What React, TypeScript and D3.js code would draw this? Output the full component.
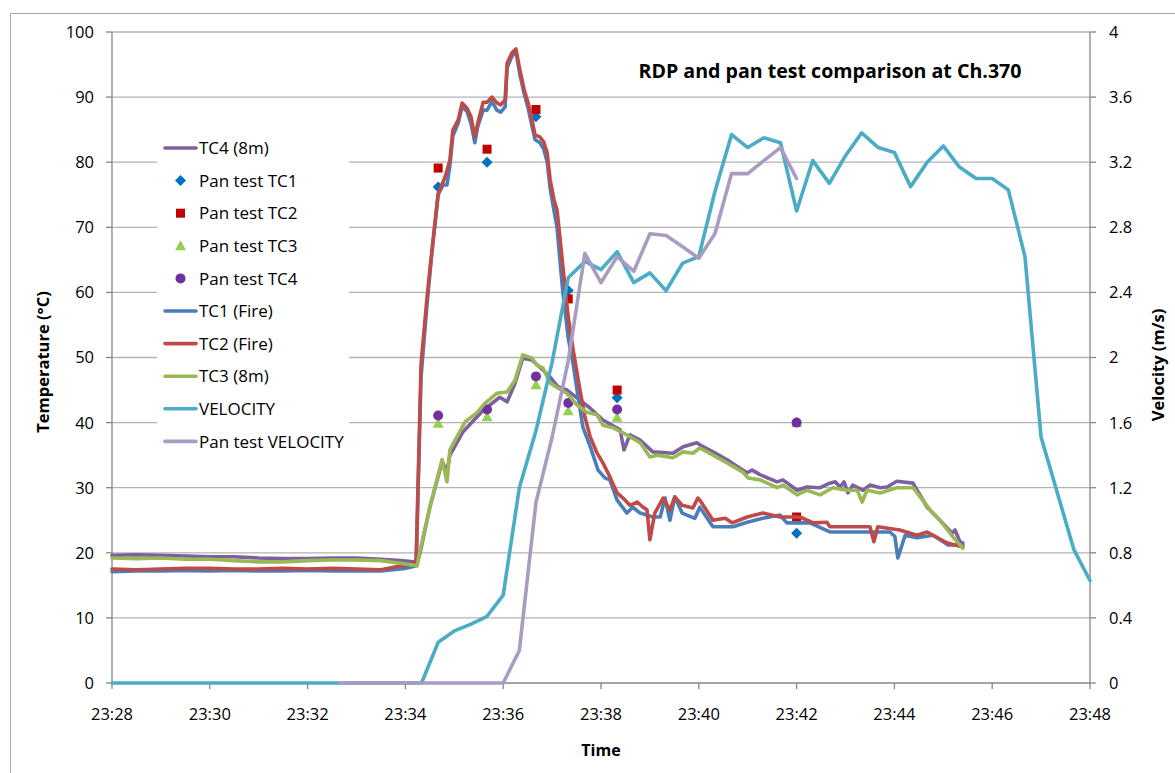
import React from "react";
import * as d3 from "d3";

// time = minutes after 23:28
const timeTickLabels = ["23:28","23:30","23:32","23:34","23:36","23:38","23:40","23:42","23:44","23:46","23:48"];
const timeTickValues = [0,2,4,6,8,10,12,14,16,18,20];
const tempTicks = [0,10,20,30,40,50,60,70,80,90,100];
const velTicks = [0,0.4,0.8,1.2,1.6,2,2.4,2.8,3.2,3.6,4];
const velTickLabels = ["0","0.4","0.8","1.2","1.6","2","2.4","2.8","3.2","3.6","4"];

const tc4: [number, number][] = [
  [0,19.6],[0.5,19.7],[1,19.6],[1.5,19.5],[2,19.4],[2.5,19.4],[3,19.2],[3.5,19.1],[4,19.1],[4.5,19.2],[5,19.2],[5.5,19.0],[5.9,18.8],[6.16,18.6],[6.24,18.4],
  [6.3,20],[6.5,27],[6.75,34],[6.85,32.5],[6.91,35],[7.18,38.6],[7.59,41.9],[7.93,43.9],[8.08,43.2],[8.24,46],[8.4,49.9],[8.59,49.6],[8.75,48.5],[8.96,47],[9.12,45.5],[9.3,45],[9.51,43.8],[9.78,42.2],[10.04,40.4],[10.39,38.9],[10.47,35.8],[10.59,38.1],[10.8,37.3],[11.06,35.5],[11.47,35.3],[11.68,36.3],[11.96,36.9],
  [12.02,36.6],[12.29,35.5],[12.58,34.3],[12.84,33],[12.99,32.3],[13.09,32.7],[13.25,32],[13.6,30.9],[13.72,31.2],[14.01,29.6],[14.21,30.1],[14.48,30],[14.68,30.7],[14.79,30.9],[14.89,30.1],[14.97,30.9],[15.05,29.2],[15.15,30.4],[15.36,29.6],[15.5,30.4],[15.71,30],[15.85,30.1],[16.05,31],[16.38,30.7],[16.67,27],[16.93,25],[17.18,23],[17.24,23.5],[17.34,21.7],[17.4,21.5]
];

const tc1: [number, number][] = [
  [0,17.1],[0.5,17.2],[1,17.2],[1.5,17.3],[2,17.2],[2.5,17.3],[3,17.2],[3.5,17.2],[4,17.3],[4.5,17.2],[5,17.2],[5.5,17.2],[5.99,17.6],[6.16,17.9],[6.22,18.0],
  [6.32,47],[6.44,58],[6.54,66],[6.67,75],[6.77,76.5],[6.85,76.5],[6.91,79.5],[6.97,84],[7.08,86],[7.16,88.5],[7.26,87.8],[7.34,86],[7.42,83],[7.48,85.5],[7.59,88],[7.67,88],[7.77,89.3],[7.87,88],[7.95,87.7],[8.04,88.5],[8.08,94.5],[8.18,96.3],[8.26,97],[8.34,93.5],[8.43,90.5],[8.51,88.3],[8.59,85.5],[8.65,83.5],[8.75,83],[8.83,82],[8.9,80],[8.96,76],[9.04,72.5],[9.1,70],[9.16,65],[9.22,60],[9.33,53],[9.43,49],[9.53,44],[9.63,39.3],[9.78,36.3],[9.94,32.7],[10.08,31.5],[10.18,31.2],[10.33,28.1],[10.53,26.1],[10.65,27],[10.8,26.1],[11.06,25.5],[11.21,25.5],[11.31,28.4],[11.41,25],[11.51,28.6],[11.66,26.1],[11.92,25.3],[12.02,27],
  [12.29,24],[12.7,24],[12.99,24.7],[13.31,25.3],[13.66,25.8],[13.8,24.6],[14.27,24.6],[14.68,23.2],[15.09,23.2],[15.91,23.2],[16.01,22.5],[16.07,19.2],[16.22,22.7],[16.46,22.3],[16.79,22.7],[17.1,21.2],[17.4,21.2]
];

const tc2: [number, number][] = [
  [0,17.5],[0.5,17.4],[1,17.5],[1.5,17.6],[2,17.6],[2.5,17.5],[3,17.5],[3.5,17.6],[4,17.5],[4.5,17.6],[5,17.5],[5.5,17.4],[5.83,17.9],[6.16,18.2],[6.22,19],
  [6.32,49],[6.44,59],[6.5,63.4],[6.67,75.2],[6.81,77.7],[6.91,80.3],[6.97,84.9],[7.08,86.5],[7.16,89.1],[7.26,88.3],[7.34,87],[7.42,83.9],[7.48,86],[7.59,89.2],[7.67,89.2],[7.77,90],[7.87,89.1],[7.95,88.8],[8.04,89.6],[8.08,95.2],[8.18,96.8],[8.26,97.4],[8.34,94.2],[8.43,91.1],[8.51,89.1],[8.59,86.5],[8.65,84.2],[8.75,83.9],[8.83,83.1],[8.9,81.4],[8.96,77.3],[9.04,74.2],[9.1,72.7],[9.16,68.5],[9.22,64],[9.33,56.2],[9.43,51.2],[9.57,45],[9.67,40.9],[9.78,37.8],[9.92,35.3],[10.04,33.8],[10.18,31.7],[10.33,29.2],[10.45,28.4],[10.59,27.3],[10.74,27.8],[10.86,27],[10.94,26.6],[11.0,22],[11.1,26.1],[11.27,28.4],[11.41,26.6],[11.51,28.6],[11.66,27.3],[11.88,26.9],[11.98,28.4],
  [12.02,28.1],[12.29,25],[12.54,25.3],[12.68,24.6],[12.99,25.5],[13.31,26.1],[13.66,25.5],[14.07,25.5],[14.34,24.6],[14.62,24.7],[14.68,24],[15.24,24],[15.5,24],[15.58,21.7],[15.66,24],[16.11,23.5],[16.46,22.7],[16.67,23.2],[17.08,21.5],[17.4,20.9]
];

const tc3: [number, number][] = [
  [0,19.2],[0.5,19.1],[1,19.2],[1.5,19.0],[2,19.0],[2.5,18.8],[3,18.6],[3.5,18.6],[4,18.8],[4.5,18.9],[5,18.9],[5.5,18.8],[5.9,18.4],[6.24,18.0],
  [6.3,20.4],[6.5,27],[6.75,34.3],[6.85,30.9],[6.91,35.8],[7.22,40.1],[7.46,41.5],[7.63,43],[7.87,44.5],[8.08,44.7],[8.24,46.5],[8.4,50.4],[8.59,49.9],[8.69,48.8],[8.81,48.4],[8.96,46.1],[9.12,45.3],[9.3,44.5],[9.51,42.7],[9.71,41.6],[9.92,41.2],[10.04,39.6],[10.25,39.2],[10.53,38.1],[10.8,36.9],[11.0,34.7],[11.15,35],[11.47,34.6],[11.68,35.5],[11.88,35.3],
  [12.02,36.1],[12.29,35],[12.58,33.8],[12.9,32.4],[13.01,31.5],[13.25,31.2],[13.6,30],[13.72,30.4],[14.01,28.9],[14.21,29.6],[14.48,28.9],[14.74,30],[15.03,29.6],[15.24,29.6],[15.34,27.8],[15.44,29.6],[15.71,29.2],[16.05,30],[16.38,30],[16.73,26.6],[16.93,25],[17.2,22.4],[17.4,20.7]
];

const velocity: [number, number][] = [
  [0,0],[6.33,0],[6.67,0.25],[7.0,0.32],[7.33,0.36],[7.67,0.41],[8.0,0.54],[8.33,1.2],[8.67,1.55],[9.0,1.97],[9.33,2.49],[9.67,2.59],[10.0,2.54],[10.33,2.65],[10.67,2.46],[11.0,2.52],[11.33,2.41],[11.67,2.58],[12.0,2.62],[12.33,3.02],[12.67,3.37],[13.0,3.29],[13.33,3.35],[13.67,3.32],[14.0,2.9],[14.33,3.21],[14.67,3.07],[15.0,3.24],[15.33,3.38],[15.67,3.29],[16.0,3.26],[16.33,3.05],[16.67,3.2],[17.0,3.3],[17.33,3.17],[17.67,3.1],[18.0,3.1],[18.33,3.03],[18.67,2.62],[19.0,1.51],[19.33,1.17],[19.67,0.82],[20.0,0.63]
];

const panVelocity: [number, number][] = [
  [4.67,0],[6.0,0],[7.0,0],[8.0,0],[8.33,0.2],[8.67,1.11],[9.0,1.51],[9.33,1.98],[9.67,2.64],[10.0,2.46],[10.33,2.62],[10.67,2.53],[11.0,2.76],[11.33,2.75],[11.67,2.68],[12.0,2.61],[12.33,2.76],[12.67,3.13],[13.0,3.13],[13.33,3.21],[13.67,3.29],[14.0,3.1]
];

const panTimes = [6.67, 7.67, 8.67, 9.33, 10.33, 14.0];
const panTC1 = [76.2, 80, 87, 60.3, 43.8, 23];
const panTC2 = [79.1, 82, 88.1, 59, 45, 25.5];
const panTC3 = [39.9, 40.9, 45.8, 41.8, 40.8, 40];
const panTC4 = [41.1, 42, 47.1, 43, 42, 40];

const C = {
  tc1: "#4A7EBB", tc2: "#BE4B48", tc3: "#98B954", tc4: "#7D60A0",
  vel: "#4BACC6", pvel: "#A99BC1",
  m1: "#0070C0", m2: "#C00000", m3: "#92D050", m4: "#7030A0",
};

const FONT = "'Open Sans', Lato, sans-serif";

export default function App() {
  const L = 112, R = 1090, T = 32, B = 683;
  const x = d3.scaleLinear().domain([0, 20]).range([L, R]);
  const yT = d3.scaleLinear().domain([0, 100]).range([B, T]);
  const yV = d3.scaleLinear().domain([0, 4]).range([B, T]);
  const lineT = d3.line<[number, number]>().x(d => x(d[0])).y(d => yT(d[1]));
  const lineV = d3.line<[number, number]>().x(d => x(d[0])).y(d => yV(d[1]));
  const sw = 3.6;
  const lp = { fill: "none", strokeWidth: sw, strokeLinejoin: "round" as const, strokeLinecap: "round" as const };

  const diamond = (cx: number, cy: number, s = 5.5) => `M${cx},${cy - s}L${cx + s},${cy}L${cx},${cy + s}L${cx - s},${cy}Z`;
  const tri = (cx: number, cy: number, s = 5.5) => `M${cx},${cy - s}L${cx + s},${cy + s * 0.8}L${cx - s},${cy + s * 0.8}Z`;

  const markers = (kind: number, cx: number, cy: number, key: string) => {
    if (kind === 1) return <path key={key} d={diamond(cx, cy)} fill={C.m1} />;
    if (kind === 2) return <rect key={key} x={cx - 4.5} y={cy - 4.5} width={9} height={9} fill={C.m2} />;
    if (kind === 3) return <path key={key} d={tri(cx, cy)} fill={C.m3} />;
    return <circle key={key} cx={cx} cy={cy} r={5} fill={C.m4} />;
  };

  const legendItems: { label: string; kind: "line" | number; color: string }[] = [
    { label: "TC4 (8m)", kind: "line", color: C.tc4 },
    { label: "Pan test TC1", kind: 1, color: C.m1 },
    { label: "Pan test TC2", kind: 2, color: C.m2 },
    { label: "Pan test TC3", kind: 3, color: C.m3 },
    { label: "Pan test TC4", kind: 4, color: C.m4 },
    { label: "TC1 (Fire)", kind: "line", color: C.tc1 },
    { label: "TC2 (Fire)", kind: "line", color: C.tc2 },
    { label: "TC3 (8m)", kind: "line", color: C.tc3 },
    { label: "VELOCITY", kind: "line", color: C.vel },
    { label: "Pan test VELOCITY", kind: "line", color: C.pvel },
  ];

  return (
    <svg width={1175} height={773} style={{ position: "absolute", left: 0, top: 0, background: "#fff" }} fontFamily={FONT}>
      <rect x={0} y={0} width={1175} height={773} fill="#fff" />
      <path d="M10.5,773V13.5H1175" fill="none" stroke="#a6a6a6" strokeWidth={1} />
      {/* gridlines */}
      {tempTicks.filter(t => t > 0).map(t => (
        <line key={"g" + t} x1={L} x2={R} y1={yT(t)} y2={yT(t)} stroke="#b3b3b3" strokeWidth={1.3} />
      ))}
      {/* axes */}
      <line x1={L} x2={L} y1={T} y2={B} stroke="#868686" strokeWidth={1.3} />
      <line x1={R} x2={R} y1={T} y2={B} stroke="#868686" strokeWidth={1.3} />
      <line x1={L} x2={R} y1={B} y2={B} stroke="#868686" strokeWidth={1.3} />
      {tempTicks.map(t => (
        <g key={"lt" + t}>
          <line x1={L - 6} x2={L} y1={yT(t)} y2={yT(t)} stroke="#868686" strokeWidth={1.3} />
          <text x={94} y={yT(t)} dy="0.36em" textAnchor="end" fontSize={16.5} fill="#000">{t}</text>
        </g>
      ))}
      {velTicks.map((v, i) => (
        <g key={"rt" + i}>
          <line x1={R} x2={R + 6} y1={yV(v)} y2={yV(v)} stroke="#868686" strokeWidth={1.3} />
          <text x={1109} y={yV(v)} dy="0.36em" textAnchor="start" fontSize={16.5} fill="#000">{velTickLabels[i]}</text>
        </g>
      ))}
      {timeTickValues.map((t, i) => (
        <g key={"bt" + t}>
          <line x1={x(t)} x2={x(t)} y1={B} y2={B + 6} stroke="#868686" strokeWidth={1.3} />
          <text x={x(t)} y={714} dy="0.36em" textAnchor="middle" fontSize={16.5} fill="#000">{timeTickLabels[i]}</text>
        </g>
      ))}
      <text transform="translate(43,362) rotate(-90)" textAnchor="middle" dy="0.36em" fontSize={16.5} fontWeight="bold">Temperature (°C)</text>
      <text transform="translate(1158,365) rotate(-90)" textAnchor="middle" dy="0.36em" fontSize={16.5} fontWeight="bold">Velocity (m/s)</text>
      <text x={601} y={750} textAnchor="middle" dy="0.36em" fontSize={16} fontWeight="bold">Time</text>
      <text x={830} y={71} textAnchor="middle" dy="0.36em" fontSize={19.6} fontWeight="bold">RDP and pan test comparison at Ch.370</text>

      {/* legend background */}
      <rect x={157} y={133} width={192} height={327} fill="#fff" />

      {/* series in legend order */}
      <path d={lineT(tc4) || ""} stroke={C.tc4} {...lp} />
      {panTimes.map((t, i) => markers(1, x(t), yT(panTC1[i]), "m1" + i))}
      {panTimes.map((t, i) => markers(2, x(t), yT(panTC2[i]), "m2" + i))}
      {panTimes.map((t, i) => markers(3, x(t), yT(panTC3[i]), "m3" + i))}
      {panTimes.map((t, i) => markers(4, x(t), yT(panTC4[i]), "m4" + i))}
      <path d={lineT(tc1) || ""} stroke={C.tc1} {...lp} />
      <path d={lineT(tc2) || ""} stroke={C.tc2} {...lp} />
      <path d={lineT(tc3) || ""} stroke={C.tc3} {...lp} />
      <path d={lineV(velocity) || ""} stroke={C.vel} {...lp} />
      <path d={lineV(panVelocity) || ""} stroke={C.pvel} {...lp} />

      {/* legend */}
      {legendItems.map((it, i) => {
        const cy = 148 + i * 32.6;
        return (
          <g key={"lg" + i}>
            {it.kind === "line" ? (
              <line x1={165} x2={196} y1={cy} y2={cy} stroke={it.color} strokeWidth={sw} strokeLinecap="round" />
            ) : (
              markers(it.kind as number, 180.5, cy, "lm" + i)
            )}
            <text x={199} y={cy} dy="0.36em" fontSize={17} fill="#000">{it.label}</text>
          </g>
        );
      })}
    </svg>
  );
}
